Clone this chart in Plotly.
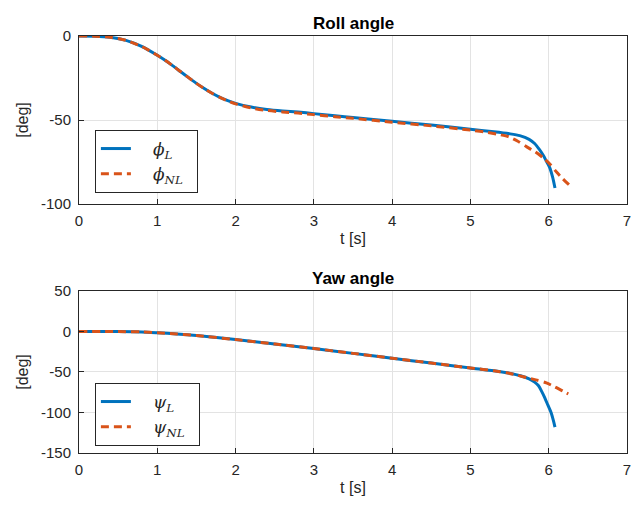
import plotly.graph_objects as go

# ---- data ----
roll_t_L = [0, 0.2, 0.4, 0.6, 0.8, 1.0, 1.1, 1.2, 1.3, 1.4, 1.5, 1.6, 1.7, 1.8, 1.9, 2.0, 2.2, 2.4, 2.6, 2.8, 3.0, 3.27, 3.5, 4.0, 4.5, 5.0, 5.3, 5.5, 5.63, 5.75, 5.82, 5.88, 5.93, 5.97, 6.01, 6.05, 6.08]
roll_L = [0, -0.1, -0.8, -2.6, -6.2, -11.5, -14.5, -17.8, -21.3, -24.8, -28.2, -31.3, -34.1, -36.5, -38.5, -40.1, -42.3, -43.7, -44.6, -45.3, -46.2, -47.5, -48.5, -50.8, -53, -55.5, -57, -58.2, -59.3, -61.5, -64, -67.5, -71, -74.5, -78, -84, -90.5]

roll_t_NL = [0, 0.2, 0.4, 0.6, 0.8, 1.0, 1.1, 1.2, 1.3, 1.4, 1.5, 1.6, 1.7, 1.8, 1.9, 2.0, 2.2, 2.4, 2.6, 2.8, 3.0, 3.27, 3.5, 4.0, 4.5, 5.0, 5.17, 5.35, 5.49, 5.6, 5.72, 5.83, 5.93, 6.02, 6.1, 6.18, 6.27]
roll_NL = [0, -0.1, -0.8, -2.6, -6.2, -11.5, -14.5, -17.8, -21.3, -24.8, -28.2, -31.3, -34.1, -36.5, -38.7, -40.4, -42.8, -44.3, -45.2, -45.9, -46.8, -48, -49, -51.3, -53.5, -56, -57, -58.5, -60, -62.5, -66, -69, -72.5, -76.5, -81, -85, -89]

yaw_t_L = [0, 0.5, 0.8, 1.0, 1.25, 1.5, 2.0, 2.5, 3.0, 3.5, 4.0, 4.5, 5.0, 5.3, 5.5, 5.65, 5.75, 5.82, 5.87, 5.91, 5.95, 5.99, 6.03, 6.06, 6.08]
yaw_L = [0, -0.1, -0.5, -1.5, -3, -5, -10, -15.5, -21, -27, -33, -39, -45, -48.5, -51.5, -55, -58.5, -62.5, -67, -74, -82, -91, -100, -110, -118]

yaw_t_NL = [0, 0.5, 0.8, 1.0, 1.25, 1.5, 2.0, 2.5, 3.0, 3.5, 4.0, 4.5, 5.0, 5.3, 5.46, 5.6, 5.72, 5.85, 5.97, 6.08, 6.18, 6.25]
yaw_NL = [0, -0.1, -0.5, -1.5, -3, -5, -10, -15.5, -21, -27, -33, -39, -45, -48.5, -51, -54, -57, -60, -63.5, -68.5, -73.5, -77]

x_ticks = [0, 1, 2, 3, 4, 5, 6, 7]
roll_ticks = [0, -50, -100]
roll_tick_text = ["0", "-50", "-100"]
yaw_ticks = [50, 0, -50, -100, -150]
yaw_tick_text = ["50", "0", "-50", "-100", "-150"]

BLUE = "#0072BD"
ORANGE = "#D95319"
FONT = "Liberation Sans, Arial, sans-serif"
LW = 3
DASH = "8px,5px"
PRE = "\u2002\u2002"
POST = "\u2002"

fig = go.Figure()

fig.add_trace(go.Scatter(x=roll_t_L, y=roll_L, mode="lines", line=dict(color=BLUE, width=LW, shape="spline", smoothing=0.7),
                         name=PRE + "<i>ϕ</i><sub><i>L</i></sub>" + POST, xaxis="x", yaxis="y", legend="legend"))
fig.add_trace(go.Scatter(x=roll_t_NL, y=roll_NL, mode="lines", line=dict(color=ORANGE, width=LW, dash=DASH, shape="spline", smoothing=0.7),
                         name=PRE + "<i>ϕ</i><sub><i>NL</i></sub>" + POST, xaxis="x", yaxis="y", legend="legend"))
fig.add_trace(go.Scatter(x=yaw_t_L, y=yaw_L, mode="lines", line=dict(color=BLUE, width=LW, shape="spline", smoothing=0.7),
                         name=PRE + "<i>ψ</i><sub><i>L</i></sub>" + POST, xaxis="x2", yaxis="y2", legend="legend2"))
fig.add_trace(go.Scatter(x=yaw_t_NL, y=yaw_NL, mode="lines", line=dict(color=ORANGE, width=LW, dash=DASH, shape="spline", smoothing=0.7),
                         name=PRE + "<i>ψ</i><sub><i>NL</i></sub>" + POST, xaxis="x2", yaxis="y2", legend="legend2"))

axis_common = dict(showline=True, linecolor="#262626", linewidth=1, mirror=True,
                   showgrid=True, gridcolor="#e3e3e3", gridwidth=1, zeroline=False,
                   ticks="inside", ticklen=5, tickcolor="#262626",
                   tickfont=dict(family=FONT, size=15, color="#262626"))

legend_common = dict(x=0.029, xanchor="left", yanchor="top",
                     bgcolor="white", bordercolor="#262626", borderwidth=1,
                     font=dict(family="DejaVu Serif, serif", size=17, color="#262626"),
                     tracegroupgap=0)

fig.update_layout(
    width=639, height=510,
    margin=dict(l=79, r=8, t=36, b=57),
    paper_bgcolor="white", plot_bgcolor="white",
    font=dict(family=FONT, size=15, color="#262626"),
    xaxis=dict(domain=[0, 1], range=[0, 7], tickvals=x_ticks, anchor="y", ticklabelstandoff=3,
               title=dict(text="t [s]", font=dict(size=16), standoff=4), **axis_common),
    yaxis=dict(domain=[0.5971, 1], range=[-100, 0], tickvals=roll_ticks, ticktext=roll_tick_text, anchor="x",
               ticklabelstandoff=4,
               title=dict(text="[deg]", font=dict(size=16), standoff=8), **axis_common),
    xaxis2=dict(domain=[0, 1], range=[0, 7], tickvals=x_ticks, anchor="y2", ticklabelstandoff=3,
                title=dict(text="t [s]", font=dict(size=16), standoff=4), **axis_common),
    yaxis2=dict(domain=[0, 0.3885], range=[-150, 50], tickvals=yaw_ticks, ticktext=yaw_tick_text, anchor="x2",
                ticklabelstandoff=4,
                title=dict(text="[deg]", font=dict(size=16), standoff=8), **axis_common),
    legend=dict(y=0.7746, **legend_common),
    legend2=dict(y=0.1679, **legend_common),
    annotations=[
        dict(text="<b>Roll angle</b>", x=0.5, y=1, xref="paper", yref="paper", xanchor="center", yanchor="bottom",
             yshift=1, showarrow=False, font=dict(family=FONT, size=17, color="black")),
        dict(text="<b>Yaw angle</b>", x=0.5, y=0.3885, xref="paper", yref="paper", xanchor="center", yanchor="bottom",
             yshift=1, showarrow=False, font=dict(family=FONT, size=17, color="black")),
    ],
)

fig.write_html("out.html")
